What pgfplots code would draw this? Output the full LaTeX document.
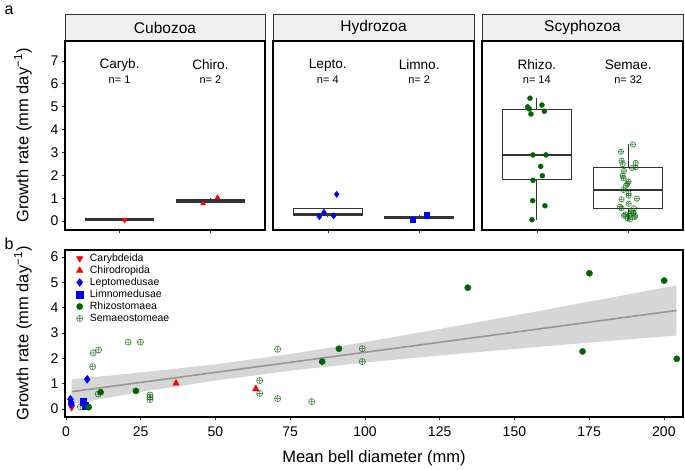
\documentclass[border=0pt]{standalone}
\usepackage{fontspec}
\setmainfont{Liberation Sans}
\usepackage{pgfplots}
\pgfplotsset{compat=1.18}
\usepgfplotslibrary{statistics}
\definecolor{dkgreen}{RGB}{0,100,0}
\definecolor{boxgray}{RGB}{51,51,51}
\definecolor{stripgray}{RGB}{240,240,240}
\definecolor{bandgray}{RGB}{153,153,153}
\definecolor{linegray}{RGB}{150,150,150}
\tikzset{
  catlab/.style={font=\fontsize{13.6}{16}\selectfont},
  nlab/.style={font=\fontsize{11}{13}\selectfont},
}
\pgfplotsset{
  /pgf/number format/assume math mode=true,
  toppanel/.style={scale only axis, height=189pt, xmin=0.4, xmax=2.6, ymin=-0.39, ymax=7.87,
    xtick={1,2}, xticklabels={}, xtick pos=bottom, ytick pos=left,
    axis line style={line width=1.2pt, black},
    tick style={color=boxgray, line width=0.6pt}, tick align=outside, major tick length=3pt,
    ticklabel style={font=\fontsize{14}{16}\selectfont},
    boxplot/draw direction=y,
    boxplot/every median/.style={line width=2.4pt},
    boxplot/every box/.style={line width=1pt},
    boxplot/every whisker/.style={line width=1pt}},
  bx/.style={boxplot prepared={draw position=#1, box extend=0.75, whisker extend=0}, draw=boxgray, fill=white, solid, mark=none},
  lgmark/.style={legend image code/.code={\path (-7pt,0pt) (7pt,0pt); \draw[##1] plot coordinates {(0pt,0pt)};}},
}
\begin{document}
\begin{tikzpicture}
\useasboundingbox (0,0) rectangle (685pt,470pt);
% strips
\draw[fill=stripgray, draw=boxgray, line width=0.8pt] (65pt,429pt) rectangle (265pt,456pt);
\draw[fill=stripgray, draw=boxgray, line width=0.8pt] (273pt,429pt) rectangle (474pt,456pt);
\draw[fill=stripgray, draw=boxgray, line width=0.8pt] (482pt,429pt) rectangle (683pt,456pt);
\node[font=\fontsize{15.5}{18}\selectfont] at (165pt,442.5pt) {Cubozoa};
\node[font=\fontsize{15.5}{18}\selectfont] at (373.5pt,442.5pt) {Hydrozoa};
\node[font=\fontsize{15.5}{18}\selectfont] at (582.5pt,442.5pt) {Scyphozoa};
\node[anchor=base west, font=\fontsize{16}{19}\selectfont] at (1pt,455pt) {a};
\node[anchor=base west, font=\fontsize{16}{19}\selectfont] at (1pt,220pt) {b};

% Cubozoa
\begin{axis}[toppanel, at={(65pt,240pt)}, anchor=south west, width=200pt, ytick={0,...,7},
  ylabel={Growth rate (mm day\textsuperscript{−1})},
  ylabel style={at={(axis description cs:-0.21,0.5)}, anchor=center, font=\fontsize{16.5}{19}\selectfont}]
\addplot[bx=1, boxplot prepared={lower whisker=0.06, lower quartile=0.06, median=0.06, upper quartile=0.06, upper whisker=0.06}] coordinates {};
\addplot[bx=2, boxplot prepared={lower whisker=0.77, lower quartile=0.83, median=0.895, upper quartile=0.96, upper whisker=1.02}] coordinates {};
\addplot[only marks, mark=triangle*, mark size=3pt, mark options={rotate=180, fill=red, draw=red}] coordinates {(1.056,0.04)};
\addplot[only marks, mark=triangle*, mark size=3pt, mark options={fill=red, draw=red}] coordinates {(1.92,0.77) (2.077,1.02)};
\node[catlab] at (axis cs:1,6.82) {Caryb.};
\node[nlab] at (axis cs:1,6.17) {n= 1};
\node[catlab] at (axis cs:2,6.82) {Chiro.};
\node[nlab] at (axis cs:2,6.17) {n= 2};
\end{axis}

% Hydrozoa
\begin{axis}[toppanel, at={(273pt,240pt)}, anchor=south west, width=201pt, ytick=\empty]
\addplot[bx=1, boxplot prepared={lower whisker=0.19, lower quartile=0.26, median=0.28, upper quartile=0.56, upper whisker=0.56}] coordinates {};
\addplot[bx=2, boxplot prepared={lower whisker=0.07, lower quartile=0.12, median=0.165, upper quartile=0.21, upper whisker=0.26}] coordinates {};
\addplot[only marks, mark=diamond*, mark size=3.2pt, mark options={fill=blue, draw=blue}] coordinates {(0.907,0.19) (0.958,0.38) (1.064,0.23) (1.097,1.17)};
\addplot[only marks, mark=square*, mark size=2.6pt, mark options={fill=blue, draw=blue}] coordinates {(1.928,0.07) (2.082,0.26)};
\node[catlab] at (axis cs:1,6.82) {Lepto.};
\node[nlab] at (axis cs:1,6.17) {n= 4};
\node[catlab] at (axis cs:2,6.82) {Limno.};
\node[nlab] at (axis cs:2,6.17) {n= 2};
\end{axis}

% Scyphozoa
\begin{axis}[toppanel, at={(482pt,240pt)}, anchor=south west, width=201pt, ytick=\empty]
\addplot[bx=1, boxplot prepared={lower whisker=0.06, lower quartile=1.82, median=2.89, upper quartile=4.87, upper whisker=5.37}] coordinates {};
\addplot[bx=2, boxplot prepared={lower whisker=0.1, lower quartile=0.56, median=1.37, upper quartile=2.35, upper whisker=3.35}] coordinates {};
\addplot[only marks, mark=*, mark size=2.5pt, mark options={fill=dkgreen, draw=dkgreen}] coordinates {
(0.925,5.37) (1.056,5.07) (0.900,4.99) (0.917,4.90) (1.082,4.80) (0.936,4.68) (0.958,2.89) (1.100,2.89)
(1.042,2.39) (1.060,1.98) (0.958,1.78) (0.955,0.89) (1.089,0.67) (0.947,0.06)};
\addplot[only marks, mark=oplus, mark size=2.7pt, mark options={draw=dkgreen, draw opacity=0.75, line width=0.6pt}] coordinates {
(2.052,3.35) (1.921,3.03) (1.928,2.64) (1.939,2.49) (2.082,2.54) (2.082,2.35) (2.041,2.32) (1.954,2.19)
(1.939,1.98) (1.950,1.87) (2.005,1.72) (1.990,1.63) (1.976,1.55) (1.946,1.36) (2.005,1.21) (2.005,1.11)
(1.928,0.95) (2.096,0.98) (2.005,0.76) (1.910,0.63) (1.928,0.56) (2.063,0.56) (2.041,0.44) (2.056,0.36)
(2.030,0.33) (1.968,0.29) (2.077,0.23) (2.012,0.23) (1.954,0.23) (2.070,0.18) (1.994,0.12) (2.019,0.07)};
\node[catlab] at (axis cs:1,6.82) {Rhizo.};
\node[nlab] at (axis cs:1,6.17) {n= 14};
\node[catlab] at (axis cs:2,6.82) {Semae.};
\node[nlab] at (axis cs:2,6.17) {n= 32};
\end{axis}

% bottom panel
\begin{axis}[scale only axis, at={(65pt,53pt)}, anchor=south west, width=618pt, height=167pt,
  xmin=-0.33, xmax=206.4, ymin=-0.32, ymax=6.28,
  xtick={0,25,...,200}, ytick={0,...,6}, xtick pos=bottom, ytick pos=left,
  axis line style={line width=1.2pt, black},
  tick style={color=boxgray, line width=0.6pt}, tick align=outside, major tick length=3pt,
  ticklabel style={font=\fontsize{14}{16}\selectfont},
  xticklabel style={yshift=-3pt},
  ylabel={Growth rate (mm day\textsuperscript{−1})},
  ylabel style={at={(axis description cs:-0.068,0.5)}, anchor=center, font=\fontsize{16.5}{19}\selectfont},
  xlabel={Mean bell diameter (mm)},
  xlabel style={at={(axis description cs:0.5,-0.2455)}, anchor=center, font=\fontsize{16.5}{19}\selectfont},
  legend style={at={(axis description cs:0,1)}, anchor=north west, xshift=5.3pt, yshift=-0.3pt, draw=none, fill=none,
    inner sep=2pt, font=\fontsize{10.5}{12}\selectfont, row sep=0pt, column sep=2pt,
    nodes={inner sep=1pt, text height=7.5pt, text depth=2.5pt}},
  legend cell align=left]
\addplot[only marks, lgmark, mark=triangle*, mark size=3.8pt, mark options={rotate=180, fill=red, draw=red}] coordinates {(1.9,0.06)};
\addlegendentry{Carybdeida}
\addplot[only marks, lgmark, mark=triangle*, mark size=3.8pt, mark options={fill=red, draw=red}] coordinates {(36.8,1.01) (63.5,0.79)};
\addlegendentry{Chirodropida}
\addplot[only marks, lgmark, mark=diamond*, mark size=4pt, mark options={fill=blue, draw=blue}] coordinates {(1.5,0.38) (1.7,0.25) (1.8,0.19) (7.1,1.17)};
\addlegendentry{Leptomedusae}
\addplot[only marks, lgmark, mark=square*, mark size=3.2pt, mark options={fill=blue, draw=blue}] coordinates {(5.8,0.29) (6.4,0.12)};
\addlegendentry{Limnomedusae}
\addplot[only marks, lgmark, mark=*, mark size=3.1pt, mark options={fill=dkgreen, draw=dkgreen}] coordinates {
(7.6,0.07) (11.6,0.66) (23.4,0.71) (85.7,1.87) (91.3,2.38) (134.4,4.79) (172.8,2.27) (175.1,5.36) (200.1,5.07) (204.3,1.98)};
\addlegendentry{Rhizostomaea}
\addplot[only marks, lgmark, mark=oplus, mark size=3.1pt, mark options={draw=dkgreen, draw opacity=0.75, line width=0.6pt}] coordinates {
(4.8,0.08) (8.9,1.67) (9.1,2.21) (10.8,0.59) (10.9,2.33) (20.8,2.64) (24.9,2.64) (28.1,0.55) (28.1,0.46) (28.1,0.37)
(64.8,1.12) (64.8,0.61) (70.8,2.36) (70.8,0.41) (82.2,0.29) (99.1,2.38) (99.1,1.87)};
\addlegendentry{Semaeostomeae}
\addplot[fill=bandgray, fill opacity=0.4, draw=none, forget plot] coordinates {
(1.9,0.19) (25,0.67) (50,1.12) (75,1.51) (100,1.83) (125,2.11) (150,2.37) (175,2.62) (204.2,2.90)
(204.2,4.88) (175,4.24) (150,3.69) (125,3.16) (100,2.64) (75,2.17) (50,1.76) (25,1.44) (1.9,1.17)};
\addplot[color=linegray, line width=1.6pt, forget plot] coordinates {(1.9,0.68) (204.2,3.89)};
\end{axis}
\end{tikzpicture}
\end{document}
